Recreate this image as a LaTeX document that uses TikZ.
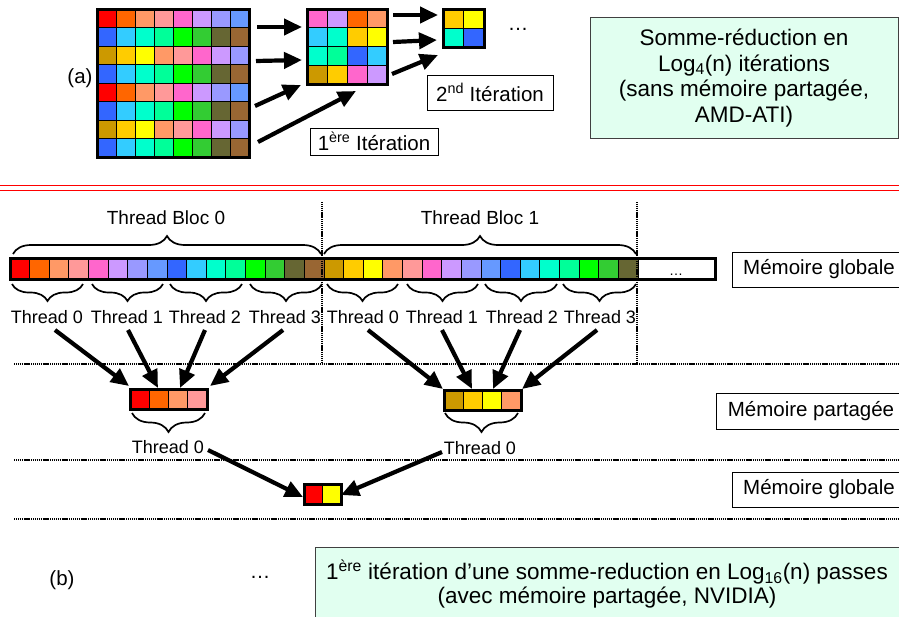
\documentclass[tikz,border=0pt]{standalone}
\usepackage{fontspec}
\setmainfont{Liberation Sans}
\usetikzlibrary{arrows.meta,decorations.pathreplacing,calc}
\definecolor{cR}{HTML}{FF0000}
\definecolor{cO}{HTML}{FF6600}
\definecolor{cLO}{HTML}{FF9966}
\definecolor{cPk}{HTML}{FF9999}
\definecolor{cMg}{HTML}{FF66CC}
\definecolor{cLv}{HTML}{CC99FF}
\definecolor{cPw}{HTML}{9999FF}
\definecolor{cCf}{HTML}{6699FF}
\definecolor{cBl}{HTML}{3366FF}
\definecolor{cSk}{HTML}{33CCFF}
\definecolor{cAq}{HTML}{00FFCC}
\definecolor{cSp}{HTML}{00FF99}
\definecolor{cGr}{HTML}{00FF00}
\definecolor{cDg}{HTML}{33CC33}
\definecolor{cOl}{HTML}{666633}
\definecolor{cBr}{HTML}{996633}
\definecolor{cGd}{HTML}{CC9900}
\definecolor{cGo}{HTML}{FFCC00}
\definecolor{cYe}{HTML}{FFFF00}
\definecolor{mint}{HTML}{E1FFF0}
\begin{document}
\begin{tikzpicture}[x=1pt,y=-1pt,
  arr/.style={line width=4.2pt,-{Triangle[length=18pt,width=16pt]}},
  cell/.style={draw=black,line width=0.8pt},
  frame/.style={draw=black,line width=3pt,inner sep=0pt,outer sep=0pt,anchor=north west},
  lblbox/.style={draw=black,line width=0.9pt,fill=white,inner sep=0pt,outer sep=0pt},
  greenbox/.style={draw=black!75,line width=1pt,fill=mint,inner sep=0pt,outer sep=0pt},
  txt/.style={font=\fontsize{20.5}{23}\selectfont},
  thr/.style={font=\fontsize{18}{21}\selectfont,inner sep=0pt},
  dotline/.style={line width=2pt,dash pattern=on 1.2pt off 0.7pt},
  bigbrace/.style={line width=1.7pt,decorate,decoration={brace,amplitude=18pt}},
  lowbrace/.style={line width=1.7pt,decorate,decoration={brace,mirror,amplitude=17pt}}]
\useasboundingbox (0,0) rectangle (899,616);
\clip (0,0) rectangle (899,616);

% ---------------- (a) ----------------
\node[txt] (la) at (80,78) {(a)};

% big 8x8 matrix
\foreach \row [count=\j from 0] in {
  {cR,cO,cLO,cPk,cMg,cLv,cPw,cCf},
  {cBl,cSk,cAq,cSp,cGr,cDg,cOl,cBr},
  {cGd,cGo,cYe,cLO,cPk,cMg,cLv,cPw},
  {cBl,cSk,cAq,cSp,cGr,cDg,cOl,cBr},
  {cR,cO,cLO,cPk,cMg,cLv,cPw,cCf},
  {cBl,cSk,cAq,cSp,cGr,cDg,cOl,cBr},
  {cGd,cGo,cYe,cLO,cPk,cMg,cLv,cPw},
  {cBl,cSk,cAq,cSp,cGr,cDg,cOl,cBr}}{
  \foreach \c [count=\i from 0] in \row {
    \filldraw[cell,fill=\c] ({97+19*\i},{9+18.5*\j}) rectangle ++(19,18.5);
  }
}
\node[frame,minimum width=152pt,minimum height=148pt] (M1) at (97,9) {};

% 4x4 matrix
\foreach \row [count=\j from 0] in {
  {cMg,cLv,cO,cLO},
  {cSk,cAq,cGo,cYe},
  {cAq,cSp,cBl,cSk},
  {cGd,cGo,cMg,cLv}}{
  \foreach \c [count=\i from 0] in \row {
    \filldraw[cell,fill=\c] ({307+20*\i},{9+18.75*\j}) rectangle ++(20,18.75);
  }
}
\node[frame,minimum width=80pt,minimum height=75pt] (M2) at (307,9) {};

% 2x2 matrix
\foreach \row [count=\j from 0] in {{cGo,cYe},{cAq,cBl}}{
  \foreach \c [count=\i from 0] in \row {
    \filldraw[cell,fill=\c] ({443+20.5*\i},{9+19*\j}) rectangle ++(20.5,19);
  }
}
\node[frame,minimum width=41pt,minimum height=38pt] (M3) at (443,9) {};
\node[txt,anchor=base] (dotsa) at (518,30) {\dots};

% arrows M1 -> M2
\coordinate (a1s) at (257,27);  \coordinate (a1e) at (302,27);
\coordinate (a2s) at (256,61);  \coordinate (a2e) at (302,60);
\coordinate (a3s) at (255,106); \coordinate (a3e) at (301,85);
\coordinate (a4s) at (258,142); \coordinate (a4e) at (356,91);
\draw[arr] (a1s) -- (a1e);
\draw[arr] (a2s) -- (a2e);
\draw[arr] (a3s) -- (a3e);
\draw[arr] (a4s) -- (a4e);
% arrows M2 -> M3
\coordinate (b1s) at (393,15); \coordinate (b1e) at (438,15);
\coordinate (b2s) at (393,42); \coordinate (b2e) at (437,40);
\coordinate (b3s) at (392,74); \coordinate (b3e) at (438,55);
\draw[arr] (b1s) -- (b1e);
\draw[arr] (b2s) -- (b2e);
\draw[arr] (b3s) -- (b3e);

\node[lblbox,txt,minimum width=128pt,minimum height=27pt] (it1) at (374,141.5) {1\textsuperscript{ère} Itération};
\node[lblbox,txt,minimum width=126pt,minimum height=35pt] (it2) at (490,92.5) {2\textsuperscript{nd} Itération};

\node[greenbox,minimum width=308pt,minimum height=121pt,align=center,
  font=\fontsize{22.5}{25.5}\selectfont] (ga) at (744,78)
  {Somme-réduction en\\Log\textsubscript{4}(n) itérations\\(sans mémoire partagée,\\AMD-ATI)};

% red double line
\draw[red,line width=1.4pt] (0,185.5) -- (899,185.5);
\draw[red,line width=1.4pt] (0,190.5) -- (899,190.5);

% ---------------- (b) section ----------------
\node[font=\fontsize{19}{21}\selectfont] (tb0) at (166,218) {Thread Bloc 0};
\node[font=\fontsize{19}{21}\selectfont] (tb1) at (480,218) {Thread Bloc 1};
\draw[bigbrace] (13,254) -- (321,254);
\draw[bigbrace] (324,254) -- (636,254);

% global memory strip
\foreach \c [count=\i from 0] in {cR,cO,cLO,cPk,cMg,cLv,cPw,cCf,cBl,cSk,cAq,cSp,cGr,cDg,cOl,cBr,
  cGd,cGo,cYe,cLO,cPk,cMg,cLv,cPw,cCf,cBl,cSk,cAq,cSp,cGr,cDg,cOl}{
  \filldraw[cell,fill=\c] ({10+19.625*\i},258) rectangle ++(19.625,21);
}
\node[frame,minimum width=705pt,minimum height=21pt] (G) at (10,258) {};
\draw[line width=1pt] (638,258) -- (638,279);
\node[font=\fontsize{14}{16}\selectfont,anchor=base] (dotsg) at (676,275) {\dots};

% thread braces
\foreach \a/\b in {12/83,92/163,170/242,250/322,327/398,407/478,485/557,563/636}{
  \draw[lowbrace] (\a,284) -- (\b,284);
}
\node[thr] (t00) at (47,317) {Thread 0};
\node[thr] (t01) at (127,317) {Thread 1};
\node[thr] (t02) at (205,317) {Thread 2};
\node[thr] (t03) at (285,317) {Thread 3};
\node[thr] (t10) at (363,317) {Thread 0};
\node[thr] (t11) at (442,317) {Thread 1};
\node[thr] (t12) at (522,317) {Thread 2};
\node[thr] (t13) at (600,317) {Thread 3};

% dotted separators
\draw[dotline] (322,202) -- (322,363);
\draw[dotline] (637,202) -- (637,363);
\draw[dotline] (14,363.5) -- (899,363.5);
\draw[dotline] (14,460) -- (899,460);
\draw[dotline] (14,518.5) -- (899,518.5);

% shared memory blocks
\foreach \c [count=\i from 0] in {cR,cO,cLO,cPk}{
  \filldraw[cell,fill=\c] ({130+19.25*\i},389) rectangle ++(19.25,20);
}
\node[frame,minimum width=77pt,minimum height=20pt] (S0) at (130,389) {};
\foreach \c [count=\i from 0] in {cGd,cGo,cYe,cLO}{
  \filldraw[cell,fill=\c] ({444+19.25*\i},390) rectangle ++(19.25,20);
}
\node[frame,minimum width=77pt,minimum height=20pt] (S1) at (444,390) {};

% thread -> shared arrows
\draw[arr] (55,330) -- (129,386);
\draw[arr] (128,330) -- (158,388);
\draw[arr] (205,330) -- (180,388);
\draw[arr] (283,330) -- (210,386);
\draw[arr] (368,330) -- (443,389);
\draw[arr] (442,330) -- (472,389);
\draw[arr] (520,330) -- (493,389);
\draw[arr] (597,330) -- (522,389);

% shared braces
\draw[lowbrace,decoration={amplitude=19pt}] (132,413) -- (205,413);
\draw[lowbrace,decoration={amplitude=19pt}] (445,413) -- (518,413);
\node[thr] (s0t) at (168,447) {Thread 0};
\node[thr] (s1t) at (480,448) {Thread 0};

% final block
\foreach \c [count=\i from 0] in {cR,cYe}{
  \filldraw[cell,fill=\c] ({304+18.5*\i},484) rectangle ++(18.5,20);
}
\node[frame,minimum width=37pt,minimum height=20pt] (F) at (304,484) {};
\draw[arr] (208,450) -- (303,497);
\draw[arr] (442,452) -- (341,495);

% memory labels
\node[lblbox,txt,minimum width=174pt,minimum height=35pt] (mg1) at (819,269.5) {Mémoire globale};
\node[lblbox,txt,minimum width=190pt,minimum height=36pt] (mp) at (811,411) {Mémoire partagée};
\node[lblbox,txt,minimum width=174pt,minimum height=35pt] (mg2) at (819,489.5) {Mémoire globale};

% ---------------- (b) ----------------
\node[txt] (lb) at (62,580) {(b)};
\node[txt,anchor=base] (dotsb) at (260,578) {\dots};
\node[greenbox,minimum width=590pt,minimum height=80pt,anchor=north west] (gb) at (315,547) {};
\node[align=center,font=\fontsize{22.5}{24}\selectfont] (gbt) at (607,584)
  {1\textsuperscript{ère} itération d’une somme-reduction en Log\textsubscript{16}(n) passes\\(avec mémoire partagée, NVIDIA)};
\end{tikzpicture}
\end{document}
